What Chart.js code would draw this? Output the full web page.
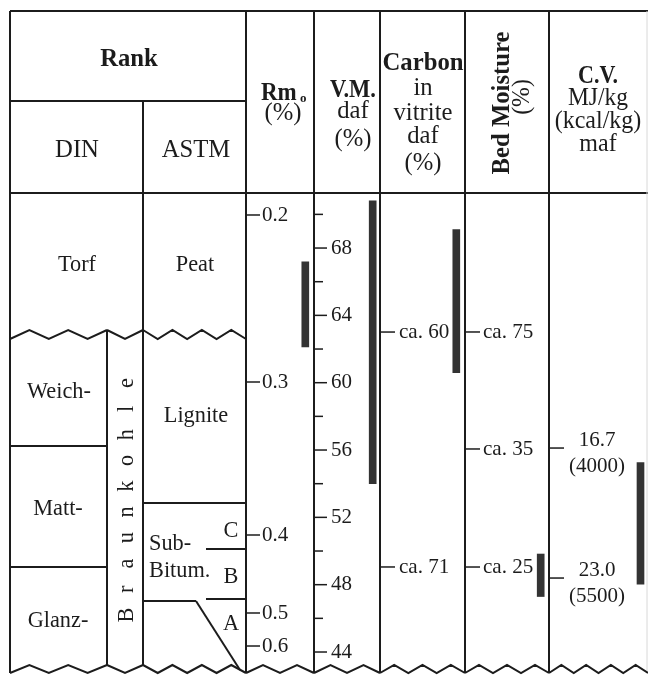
<!DOCTYPE html>
<html>
<head>
<meta charset="utf-8">
<script src="https://cdn.jsdelivr.net/npm/chart.js@4"></script>
<style>
  html, body { margin: 0; padding: 0; background: #fff; }
  canvas { display: block; }
</style>
</head>
<body>
<canvas id="chart" width="648" height="677"></canvas>
<script>
// ---- data ----
const dinRanks = ["Torf", "Weich-", "Matt-", "Glanz-"];
const astmRanks = ["Peat", "Lignite", "Sub-", "Bitum."];
const subBitumClasses = ["C", "B", "A"];
const rmTicks = [0.2, 0.3, 0.4, 0.5, 0.6];
const vmMajorTicks = [68, 64, 60, 56, 52, 48, 44];
const vmMinorTicks = [70, 66, 62, 58, 54, 50, 46];
const carbonTicks = [60, 71];
const moistureTicks = [75, 35, 25];
const cvTicks = [16.7, 23.0];
const cvKcalTicks = [4000, 5500];

const rmRange = [0.228, 0.279];
const vmRange = [54.0, 70.8];
const carbonRange = [55.2, 61.9];
const moistureRange = [22.5, 26.1];
const cvRange = [17.4, 23.3];

// ---- layout ----
const X = { left: 10, braun: 107, din: 143, rank: 246, rm: 314, vm: 380, carbon: 465, moist: 549, right: 647 };
const Y = { top: 11, sub: 101, head: 193, bottom: 668 };
const INK = "#1c1c1c";
const BAR = "#333333";
const SERIF = '"Liberation Serif", "Times New Roman", serif';

// scale whose pixel position is interpolated between fixed stops (value, fraction of height)
class StopScale extends Chart.LinearScale {
  getPixelForValue(v) {
    const s = this.options.stops;
    const d = Math.sign(s[s.length - 1][0] - s[0][0]);
    let i = 0;
    while (i < s.length - 2 && (v - s[i + 1][0]) * d > 0) i++;
    const [v0, f0] = s[i], [v1, f1] = s[i + 1];
    const f = f0 + (v - v0) / (v1 - v0) * (f1 - f0);
    return this.top + f * (this.bottom - this.top);
  }
}
StopScale.id = "stops";
StopScale.defaults = {};
Chart.register(StopScale);

function txt(ctx, s, x, y, size, opts = {}) {
  ctx.save();
  ctx.font = (opts.bold ? "bold " : "") + size + "px " + SERIF;
  ctx.textAlign = opts.align || "center";
  ctx.textBaseline = opts.baseline || "alphabetic";
  ctx.fillStyle = INK;
  ctx.translate(x, y);
  if (opts.rotate) ctx.rotate(opts.rotate);
  ctx.scale(opts.sx || 1, 1);
  ctx.fillText(s, 0, 0);
  ctx.restore();
}

function line(ctx, x0, y0, x1, y1, w = 2) {
  ctx.lineWidth = w;
  ctx.beginPath();
  ctx.moveTo(x0, y0);
  ctx.lineTo(x1, y1);
  ctx.stroke();
}

function zig(ctx, x0, x1, n, yHi, yLo, startHigh) {
  ctx.lineWidth = 2;
  ctx.lineJoin = "miter";
  ctx.beginPath();
  for (let i = 0; i <= n; i++) {
    const high = (i % 2 === 0) === startHigh;
    const x = x0 + (x1 - x0) * i / n;
    const y = high ? yHi : yLo;
    if (i === 0) ctx.moveTo(x, y); else ctx.lineTo(x, y);
  }
  ctx.stroke();
}

const HEAD = { size: 26, sx: 0.95 };
const BODY = { size: 24, sx: 0.93 };
const TICK = 21;

const tablePlugin = {
  id: "table",
  beforeDraw(chart) {
    const ctx = chart.ctx;
    ctx.save();
    ctx.fillStyle = "#fff";
    ctx.fillRect(0, 0, chart.width, chart.height);
    ctx.restore();
  },
  afterDraw(chart) {
    const ctx = chart.ctx;
    const s = chart.scales;
    ctx.save();
    ctx.strokeStyle = INK;
    ctx.lineCap = "butt";

    // frame and column rules
    line(ctx, X.left, Y.top, 648, Y.top);
    line(ctx, X.left, Y.sub, X.rank, Y.sub);
    line(ctx, X.left, Y.head, 648, Y.head);
    line(ctx, X.left, Y.top, X.left, 673);
    line(ctx, X.braun, 330, X.braun, 665);
    line(ctx, X.din, Y.sub, X.din, 665);
    [X.rank, X.rm, X.vm, X.carbon, X.moist].forEach(x => line(ctx, x, Y.top, x, 673));
    ctx.strokeStyle = "#d8d8d8";
    line(ctx, X.right, Y.top, X.right, 673, 1);
    ctx.strokeStyle = INK;

    // rank subdivisions
    line(ctx, X.left, 446, X.braun, 446);
    line(ctx, X.left, 567, X.braun, 567);
    line(ctx, X.din, 503, X.rank, 503);
    line(ctx, 206, 549, X.rank, 549);
    line(ctx, 206, 599, X.rank, 599);
    line(ctx, X.din, 601, 196, 601);
    line(ctx, 196, 601, 240, 670);

    // peat / lignite break
    zig(ctx, X.left, X.braun, 5, 330, 339, false);
    zig(ctx, X.braun, X.din, 2, 330, 339, true);
    zig(ctx, X.din, X.rank, 7, 330, 339, true);
    // bottom break
    zig(ctx, X.left, X.braun, 5, 665, 673, false);
    zig(ctx, X.braun, X.din, 2, 665, 673, true);
    zig(ctx, X.din, X.rank, 7, 665, 673, true);
    zig(ctx, X.rank, X.rm, 4, 665, 673, false);
    zig(ctx, X.rm, X.vm, 4, 665, 673, false);
    zig(ctx, X.vm, X.carbon, 6, 665, 673, false);
    zig(ctx, X.carbon, X.moist, 6, 665, 673, false);
    zig(ctx, X.moist, 648, 8, 665, 673, false);

    // header
    const H = HEAD.size, hs = HEAD.sx;
    txt(ctx, "Rank", 129, 66, H, { bold: true, sx: hs });
    txt(ctx, "DIN", 77, 157, H, { sx: hs });
    txt(ctx, "ASTM", 196, 157, H, { sx: hs });
    txt(ctx, "Rm", 261, 100, 25, { bold: true, align: "left", sx: 0.92 });
    txt(ctx, "o", 300, 102, 13, { bold: true, align: "left" });
    txt(ctx, "(%)", 283, 120, H, { sx: hs });
    txt(ctx, "V.M.", 353, 97, 25, { bold: true, sx: 0.9 });
    txt(ctx, "daf", 353, 118, H, { sx: hs });
    txt(ctx, "(%)", 353, 146, H, { sx: hs });
    txt(ctx, "Carbon", 423, 70, H, { bold: true, sx: hs });
    txt(ctx, "in", 423, 95, H, { sx: hs });
    txt(ctx, "vitrite", 423, 120, H, { sx: hs });
    txt(ctx, "daf", 423, 143, H, { sx: hs });
    txt(ctx, "(%)", 423, 170, H, { sx: hs });
    txt(ctx, "C.V.", 598, 83, 25, { bold: true, sx: 0.88 });
    txt(ctx, "MJ/kg", 598, 105, 25, { sx: 0.94 });
    txt(ctx, "(kcal/kg)", 598, 128, 25, { sx: 0.96 });
    txt(ctx, "maf", 598, 151, 25, { sx: 0.96 });
    txt(ctx, "Bed Moisture", 509, 103, H, { bold: true, sx: hs, rotate: -Math.PI / 2 });
    txt(ctx, "(%)", 529, 97, 25, { sx: hs, rotate: -Math.PI / 2 });

    // rank names
    const B = BODY.size, bs = BODY.sx;
    txt(ctx, dinRanks[0], 77, 271, B, { sx: bs });
    txt(ctx, dinRanks[1], 59, 398, B, { sx: bs });
    txt(ctx, dinRanks[2], 58, 515, B, { sx: bs });
    txt(ctx, dinRanks[3], 58, 627, B, { sx: bs });
    txt(ctx, astmRanks[0], 195, 271, B, { sx: bs });
    txt(ctx, astmRanks[1], 196, 422, B, { sx: bs });
    txt(ctx, astmRanks[2], 149, 550, B, { align: "left", sx: bs });
    txt(ctx, astmRanks[3], 149, 577, B, { align: "left", sx: bs });
    txt(ctx, subBitumClasses[0], 231, 537, B, { sx: bs });
    txt(ctx, subBitumClasses[1], 231, 583, B, { sx: bs });
    txt(ctx, subBitumClasses[2], 231, 630, B, { sx: bs });
    const braun = "Braunkohle".split("");
    braun.forEach((ch, i) => {
      const y = 615 - i * (615 - 383) / (braun.length - 1);
      txt(ctx, ch, 133, y, B, { rotate: -Math.PI / 2, sx: bs });
    });

    // scale ticks
    rmTicks.forEach(v => {
      const y = s.yRm.getPixelForValue(v);
      line(ctx, X.rank, y, X.rank + 14, y, 1.5);
      txt(ctx, v.toFixed(1), X.rank + 16, y, TICK, { align: "left", baseline: "middle" });
    });
    vmMajorTicks.forEach(v => {
      const y = s.yVM.getPixelForValue(v);
      line(ctx, X.rm, y, X.rm + 13, y, 1.5);
      txt(ctx, String(v), X.rm + 17, y, TICK, { align: "left", baseline: "middle" });
    });
    vmMinorTicks.forEach(v => {
      const y = s.yVM.getPixelForValue(v);
      line(ctx, X.rm, y, X.rm + 9, y, 1.5);
    });
    carbonTicks.forEach(v => {
      const y = s.yC.getPixelForValue(v);
      line(ctx, X.vm, y, X.vm + 15, y, 1.5);
      txt(ctx, "ca. " + v, X.vm + 19, y, 22, { align: "left", baseline: "middle", sx: 0.96 });
    });
    moistureTicks.forEach(v => {
      const y = s.yBM.getPixelForValue(v);
      line(ctx, X.carbon, y, X.carbon + 15, y, 1.5);
      txt(ctx, "ca. " + v, X.carbon + 18, y, 22, { align: "left", baseline: "middle", sx: 0.96 });
    });
    cvTicks.forEach((v, i) => {
      const y = s.yCV.getPixelForValue(v);
      line(ctx, X.moist, y, X.moist + 15, y, 1.5);
      txt(ctx, v.toFixed(1), 597, y - 8, TICK, { baseline: "middle" });
      txt(ctx, "(" + cvKcalTicks[i] + ")", 597, y + 18, TICK, { baseline: "middle" });
    });
    ctx.restore();
  }
};

const barX = {
  rm: X.rm - 8.7,
  vm: X.vm - 7.3,
  carbon: X.carbon - 8.7,
  moist: X.moist - 8.3,
  cv: X.right - 6.5
};

new Chart(document.getElementById("chart").getContext("2d"), {
  type: "bar",
  data: {
    datasets: [
      { label: "Rm", data: [{ x: barX.rm, y: rmRange }], yAxisID: "yRm", backgroundColor: BAR },
      { label: "V.M.", data: [{ x: barX.vm, y: vmRange }], yAxisID: "yVM", backgroundColor: BAR },
      { label: "Carbon", data: [{ x: barX.carbon, y: carbonRange }], yAxisID: "yC", backgroundColor: BAR },
      { label: "Bed Moisture", data: [{ x: barX.moist, y: moistureRange }], yAxisID: "yBM", backgroundColor: BAR },
      { label: "C.V.", data: [{ x: barX.cv, y: cvRange }], yAxisID: "yCV", backgroundColor: BAR }
    ]
  },
  options: {
    responsive: false,
    animation: false,
    events: [],
    layout: { padding: { left: X.left, right: 648 - X.right, top: Y.head, bottom: 677 - Y.bottom } },
    datasets: {
      bar: { grouped: false, barThickness: 7, borderWidth: 0 }
    },
    plugins: { legend: { display: false }, tooltip: { enabled: false }, colors: { enabled: false } },
    scales: {
      x: { type: "linear", min: X.left, max: X.right, offset: false, display: false },
      yRm: {
        type: "stops", display: false, min: 0.1, max: 0.7,
        stops: [[0.2, 0.0463], [0.3, 0.3979], [0.4, 0.72], [0.5, 0.8842], [0.6, 0.9537]]
      },
      yVM: { type: "linear", display: false, min: 43.05, max: 71.27 },
      yC: { type: "linear", display: false, reverse: true, min: 53.49, max: 75.73 },
      yBM: {
        type: "stops", display: false, min: 0, max: 100,
        stops: [[75, 0.2926], [35, 0.5389], [25, 0.7874]]
      },
      yCV: { type: "linear", display: false, reverse: true, min: 4.34, max: 27.36 }
    }
  },
  plugins: [tablePlugin]
});
</script>
</body>
</html>
